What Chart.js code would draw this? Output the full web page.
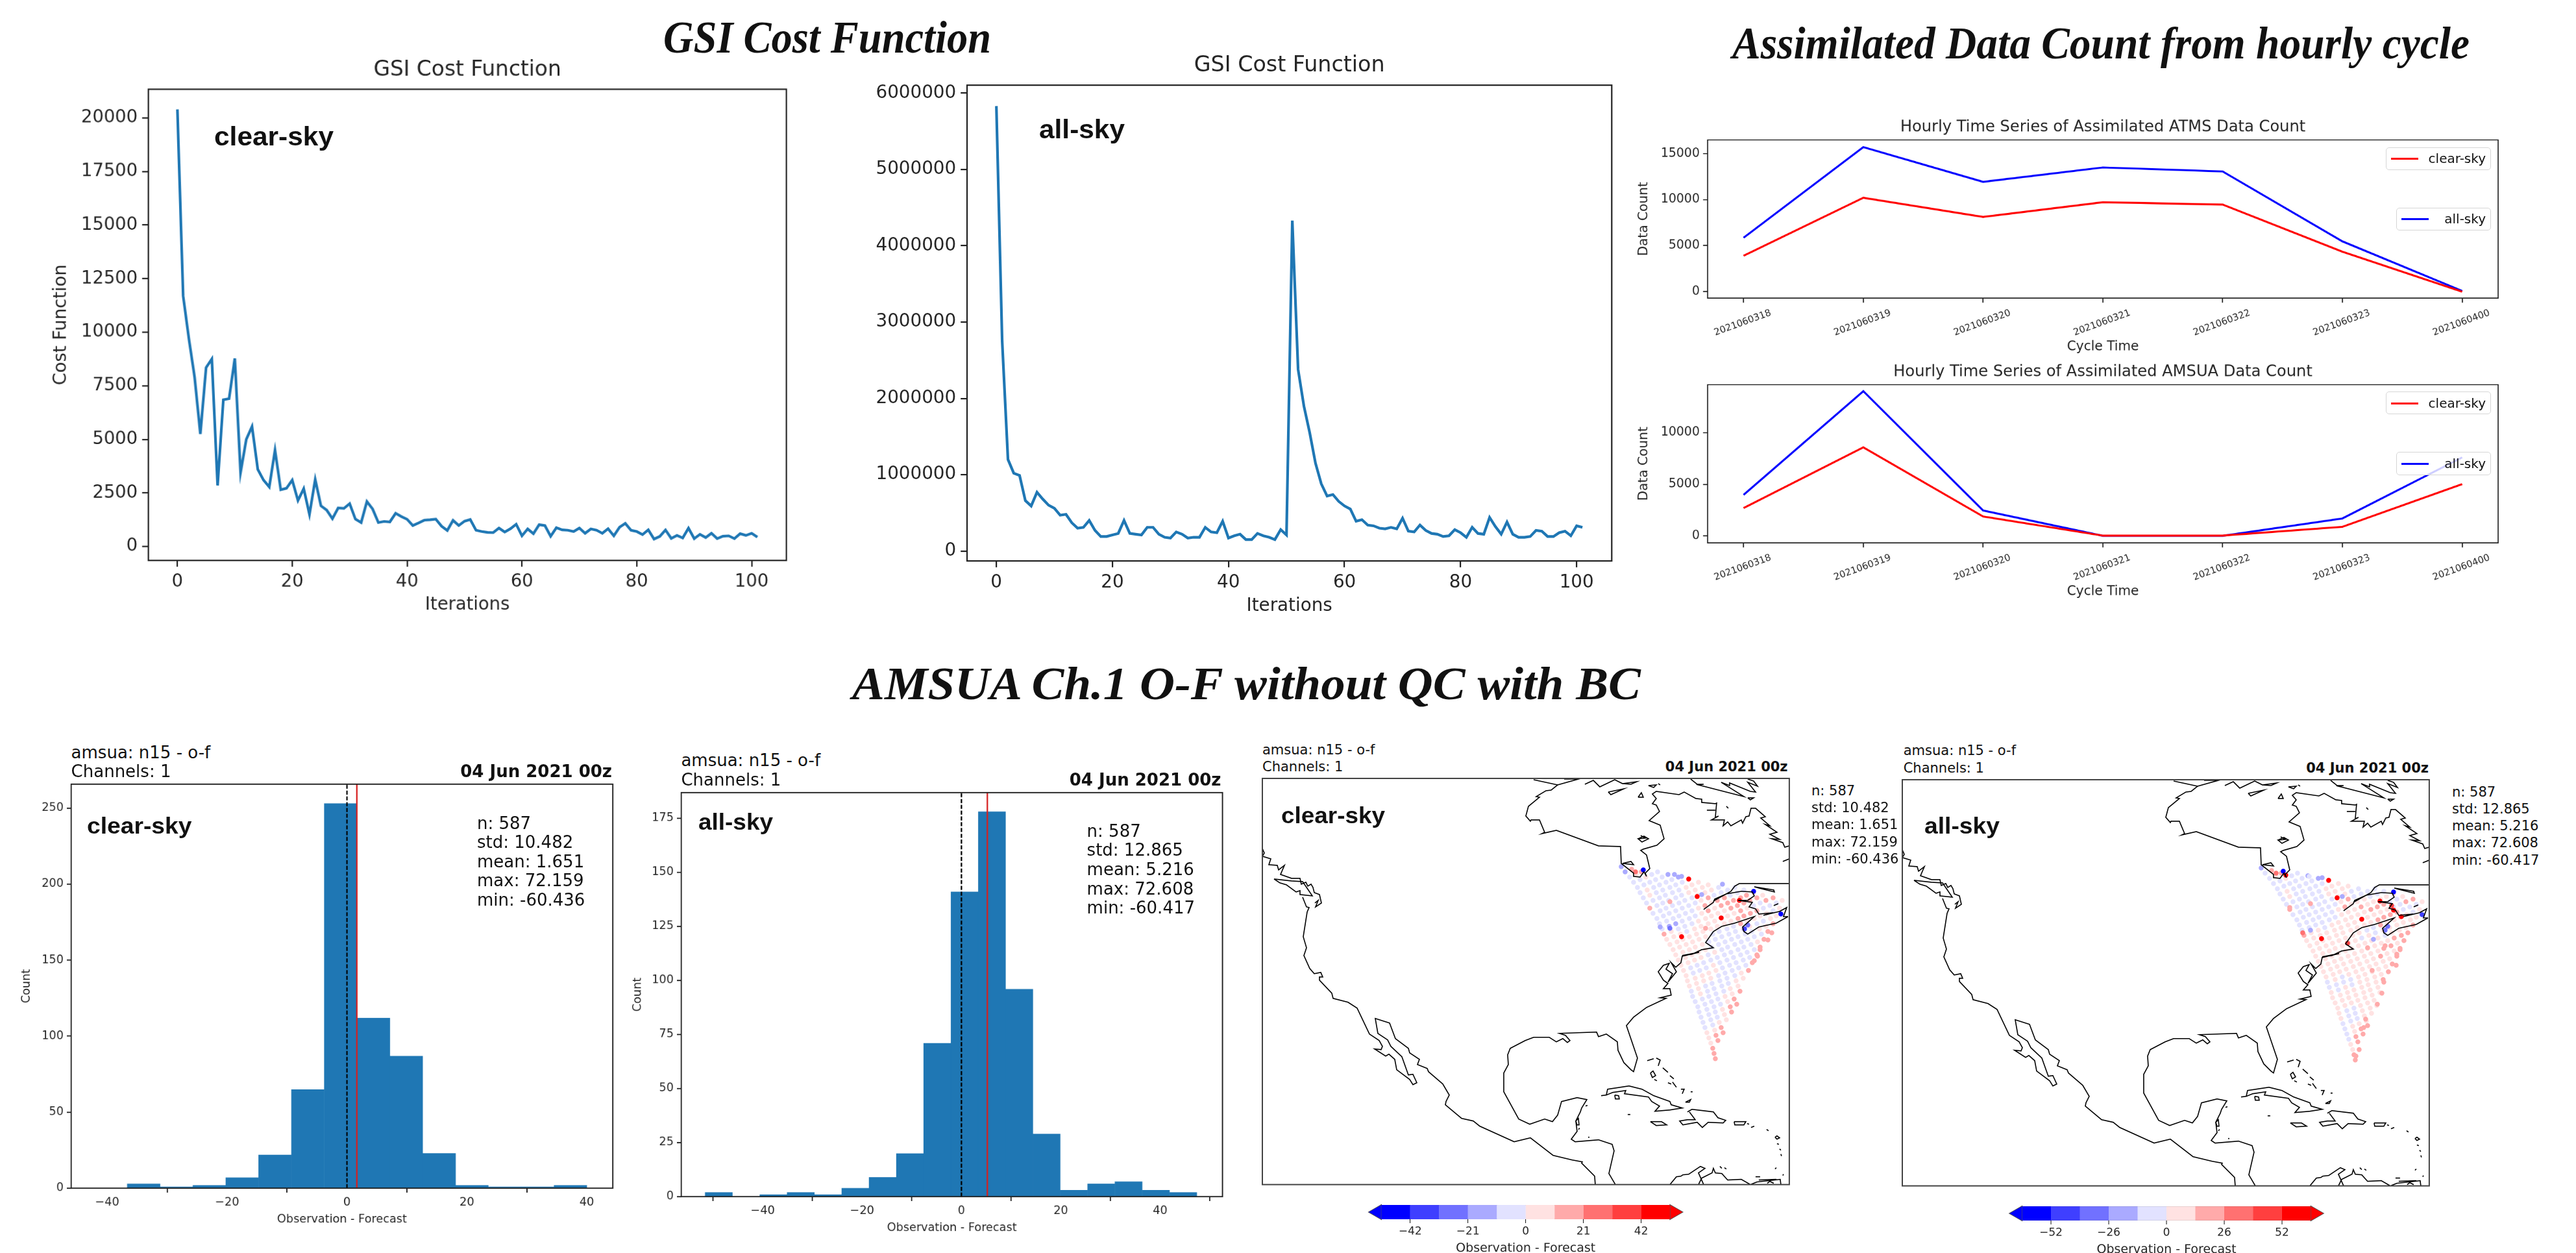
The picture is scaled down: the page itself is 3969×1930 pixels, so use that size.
<!DOCTYPE html>
<html>
<head>
<meta charset="utf-8">
<title>GSI cost function and AMSUA O-F</title>
<style>
    html, body { margin: 0; padding: 0; background: #fff; width: 3969px; height: 1930px; overflow: hidden; }
    .panel { position: absolute; transform-origin: 0 0; }
    .panel canvas { display: block; }
    .note { position: absolute; white-space: nowrap; line-height: 1; color: #111; z-index: 5; }
    .legend { position: absolute; box-sizing: border-box; background: rgba(255,255,255,0.8); border: 1.5px solid #d6d6d6; border-radius: 5px; z-index: 4; }
</style>
<script src="https://cdn.jsdelivr.net/npm/chart.js@4"></script>
</head>
<body>
<script>
// cost function, iterations 0..101
const iterations = [...Array(102).keys()];
const costClear = [20400,11700,9700,7900,5250,8350,8750,2850,6850,6900,8780,3450,5000,5600,3600,3100,2780,4500,2650,2720,3100,2150,2700,1500,3130,1900,1700,1300,1800,1780,2000,1280,1120,2100,1750,1120,1170,1150,1550,1400,1270,980,1100,1230,1250,1280,950,750,1220,980,1180,1260,760,700,660,650,860,680,830,1040,500,820,600,1020,980,480,880,780,760,700,860,620,820,760,620,830,500,900,1080,760,700,560,780,350,470,770,380,520,400,860,370,570,420,620,370,480,500,370,600,520,620,440];
const costAll = [5830000,2750000,1200000,1020000,990000,660000,590000,770000,680000,600000,560000,470000,480000,370000,300000,310000,400000,270000,190000,190000,210000,230000,400000,230000,220000,210000,310000,310000,220000,180000,170000,250000,220000,170000,180000,180000,310000,250000,240000,390000,170000,200000,220000,150000,150000,230000,200000,180000,150000,280000,210000,4330000,2380000,1900000,1550000,1150000,880000,720000,740000,650000,590000,550000,390000,410000,340000,330000,300000,290000,310000,290000,430000,260000,250000,340000,270000,230000,220000,190000,200000,280000,240000,180000,310000,230000,220000,440000,320000,220000,380000,220000,180000,180000,190000,270000,260000,190000,190000,240000,260000,200000,330000,310000];
const iterTicks = [0,20,40,60,80,100];
const costClearTicks = [0,2500,5000,7500,10000,12500,15000,17500,20000];
const costAllTicks = [0,1000000,2000000,3000000,4000000,5000000,6000000];

// assimilated data counts
const cycleTimes = ['2021060318','2021060319','2021060320','2021060321','2021060322','2021060323','2021060400'];
const atmsClear = [3900,10190,8110,9710,9450,4335,0];
const atmsAll = [5850,15690,11920,13480,13050,5460,80];
const amsuaClear = [2700,8570,1890,40,40,890,5020];
const amsuaAll = [3980,14000,2470,20,20,1700,7600];
const atmsTicks = [0,5000,10000,15000];
const amsuaTicks = [0,5000,10000];

// histograms
const histClearCenters = [-33.91,-28.43,-22.96,-17.48,-12.0,-6.53,-1.05,4.42,9.9,15.38,20.85,26.33,31.8,37.28];
const histClearCounts = [3,1,2,7,22,65,253,112,87,23,2,1,1,2];
const histAllCenters = [-48.85,-43.35,-37.85,-32.35,-26.85,-21.35,-15.85,-10.35,-4.85,0.65,6.15,11.65,17.15,22.65,28.15,33.65,39.15,44.65];
const histAllCounts = [2,0,1,2,1,4,9,20,71,141,178,96,29,3,6,7,3,2];
const histXTicks = [-40,-20,0,20,40];
const histClearYTicks = [0,50,100,150,200,250];
const histAllYTicks = [0,25,50,75,100,125,150,175];
const meanClear = 1.651;
const meanAll = 5.216;

// map grid units: 0..812 across, 0..626 down
const coastlines = [
    [0,108,3,115,0,120,13,124,10,133,23,134,25,141,34,134,28,148,45,154,58,154,60,163,67,160,70,166,75,163,78,168,80,176,88,179,91,192,82,198,86,188,81,192],
    [18,155,27,161,37,164,52,175,58,173,58,179,77,181,62,159,45,158,18,155],
    [62,183,68,198,72,199,69,206,63,244,68,261,64,273,73,293,80,301,90,299,93,306,88,306,88,311,107,331,109,339,132,345,146,354,165,394,180,404,185,413,183,418,173,417,190,428,195,425,204,433,207,449,227,464,232,472,238,469,232,456,225,457,215,429,198,413,193,403,178,393,174,370,196,377,205,401,225,416,227,423,242,433,239,441,254,447,256,452,278,471,288,488,283,498,282,503,307,524,325,528,335,536,388,560,413,554,448,581,477,588,493,591,492,593,512,613,513,626],
    [544,626,534,609,542,574,539,564,518,557,482,560,476,556,485,544,483,528,490,514,492,508,500,495,485,492,461,498,455,519,447,529,435,525,412,533,395,525,372,483,372,454,379,441,378,426,382,416,405,404,418,399,442,399,453,406,463,401,470,407,474,404,467,396,458,393,485,392,515,391,518,398,530,394,547,406,548,419,557,438,568,449,572,452,578,431,561,381,572,368,592,353,622,339,613,338,630,334,628,324,618,324,625,316,618,311,610,298,618,288,627,285,622,294,632,301,625,314,638,298,630,284,637,291,645,284,647,274,673,268,647,273,662,271,677,264,695,261,683,253,695,236,708,228,728,223,758,213,740,229,742,236,748,240,765,229,792,223,810,213],
    [680,202,695,191,697,186,715,178,738,174,755,175,758,181,748,188,733,188,755,191,750,198,760,201,765,209,787,207,772,211,797,205,808,199,803,213,810,213],
    [695,189,722,174,728,166,735,162,812,162],
    [758,167,788,172,789,175,765,169,758,167],
    [788,196,795,193],
    [802,128,812,124],
    [418,2,455,10,445,18,437,19,422,28,427,29,410,43,406,58,413,66,414,64,427,64,435,83,431,85,453,80,518,104,552,105,553,131,572,146,572,151,582,152,588,144,592,151,590,146,597,139,592,118,583,111,587,109,608,103,619,93,613,72,596,65,612,51,607,41,601,39,607,31,601,24,607,20,642,25,650,21,668,31,677,32,677,37,698,39,700,38,698,60,703,58,692,64,712,64,710,73,717,67,722,73,738,64,740,69,745,59,750,58,753,46,760,46,775,59,768,61,782,73,775,71,793,83,782,86,797,94,785,93,802,99,805,106,812,104],
    [685,49,698,49],
    [555,131,568,128,572,133,555,131],
    [579,93,588,89,595,93,585,98,579,93,590,92,583,88],
    [465,1,487,1,455,10],
    [497,9,510,3,520,13,543,2,555,8,577,5,568,9,555,8],
    [533,21,557,16,537,25,533,21],
    [579,29,584,22,587,29,579,29],
    [595,11,607,10,603,14,595,11],
    [610,8,613,10],
    [660,1,670,9,680,9,672,10,742,28,707,6,720,11,720,7,752,20,760,21,748,6,763,12,757,4,748,1],
    [715,43,718,46],
    [748,30,757,30,752,33,748,30],
    [522,489,530,488,532,479,565,474,585,479,603,489,628,498,630,503,647,508,628,511,605,513,612,505,600,498,595,491,558,486,560,481,540,484,530,488],
    [543,488,549,489,550,494,544,494,543,488],
    [655,514,662,510,695,514,702,523,714,527,710,531,687,530,678,538,670,530,648,534,643,528,655,526,667,526,658,514],
    [598,529,615,529,623,534,607,535,598,529],
    [727,529,745,529,742,534,728,534,727,529],
    [593,435,603,432],
    [607,431,613,434,610,443],
    [617,446,625,453],
    [628,458,634,463],
    [625,469,630,471],
    [632,468,638,476],
    [645,479,650,479,647,486],
    [660,483,663,483],
    [652,499,660,495,658,499,652,499],
    [563,518,567,518],
    [598,454,602,451,606,458,601,461,598,454],
    [604,464,608,466],
    [747,532,750,533],
    [753,538,758,536],
    [777,541,780,543],
    [790,553,793,551,797,554,793,556,790,553],
    [793,563,796,564],
    [797,571,799,573],
    [799,579,800,582],
    [790,602,792,600],
    [802,612,803,610],
    [498,505,501,504],
    [483,528,487,524,488,534,485,534,483,528],
    [487,541,489,539],
    [502,553,504,553],
    [628,626,638,614,645,613,648,611,657,610,675,598,682,601,672,608,680,626],
    [672,626,677,616,693,608,695,601,698,608,708,609,717,619,738,618,752,626,762,622,798,618,799,626],
    [705,598,708,601],
    [712,600,715,602],
    [760,614,767,614],
    [765,619,792,618],
    [778,624,782,621,788,624]
];

// observation locations, one line per swath row
const obsU = [
    553,559,566,572,578,582,587,592,597,602,608,612,616,619,623,628,633,637,641,645,649,653,655,658,661,663,667,671,673,676,679,682,685,688,691,694,696,698,
    569,576,582,588,593,597,602,608,613,618,623,627,630,634,639,643,648,652,656,660,664,667,669,672,675,678,682,685,688,691,694,697,699,702,
    584,591,597,603,607,612,617,622,627,633,637,641,644,648,653,658,662,666,670,674,678,680,683,686,688,692,696,698,701,704,707,710,
    600,606,612,617,621,626,632,637,642,647,651,654,658,663,667,672,676,680,684,688,691,693,696,699,702,706,709,712,715,
    609,616,622,628,632,637,642,647,652,658,662,666,669,673,678,683,687,691,695,699,703,705,708,711,713,717,721,723,
    625,631,637,642,646,651,657,662,667,672,676,679,683,688,692,697,701,705,709,713,716,718,721,724,727,731,
    641,647,653,657,662,667,672,677,683,687,691,694,698,703,708,712,716,720,724,728,730,733,736,
    656,662,667,671,676,682,687,692,697,701,704,708,713,717,722,726,730,734,738,741,
    672,678,682,687,692,697,702,708,712,716,719,723,728,733,737,741,745,749,
    687,692,696,701,707,712,717,722,726,729,733,738,742,747,751,755,
    703,707,712,717,722,727,733,737,741,744,748,753,758,762,
    717,721,726,732,737,742,747,751,754,758,763,767,
    728,732,737,742,747,752,758,762,766,769,773,
    742,746,751,757,762,767,772,776,779,
    757,762,767,772,777,783,787,
    771,776,782,787,792,
    787,792,797,
    801
];
const obsV = [
    136,144,152,160,168,176,184,192,200,208,216,224,232,240,248,256,264,272,280,288,296,304,312,320,328,336,344,352,360,368,376,384,392,400,408,416,424,432,
    140,148,156,164,172,180,188,196,204,212,220,228,236,244,252,260,268,276,284,292,300,308,316,324,332,340,348,356,364,372,380,388,396,404,
    144,152,160,168,176,184,192,200,208,216,224,232,240,248,256,264,272,280,288,296,304,312,320,328,336,344,352,360,368,376,384,392,
    148,156,164,172,180,188,196,204,212,220,228,236,244,252,260,268,276,284,292,300,308,316,324,332,340,348,356,364,372,
    144,152,160,168,176,184,192,200,208,216,224,232,240,248,256,264,272,280,288,296,304,312,320,328,336,344,352,360,
    148,156,164,172,180,188,196,204,212,220,228,236,244,252,260,268,276,284,292,300,308,316,324,332,340,348,
    152,160,168,176,184,192,200,208,216,224,232,240,248,256,264,272,280,288,296,304,312,320,328,
    156,164,172,180,188,196,204,212,220,228,236,244,252,260,268,276,284,292,300,308,
    160,168,176,184,192,200,208,216,224,232,240,248,256,264,272,280,288,296,
    164,172,180,188,196,204,212,220,228,236,244,252,260,268,276,284,
    168,176,184,192,200,208,216,224,232,240,248,256,264,272,
    172,180,188,196,204,212,220,228,236,244,252,260,
    168,176,184,192,200,208,216,224,232,240,248,
    172,180,188,196,204,212,220,228,236,
    176,184,192,200,208,216,224,
    180,188,196,204,212,
    184,192,200,
    188
];
const clearOmf = [
    -15,-15,-5,-5,-5,-5,-5,-5,15,-5,-5,-5,-5,15,5,5,5,5,5,5,5,5,5,5,-5,-5,-5,-5,-5,-5,-5,-5,5,5,5,15,15,15,
    15,5,-5,-5,5,5,-5,-5,-5,-5,-5,-15,5,5,5,5,5,5,5,-5,-5,5,5,5,5,-5,-5,-5,-5,-5,-5,5,15,15,
    15,5,-5,-5,-5,-5,-5,-5,-5,-5,-15,-5,5,5,5,5,5,5,-5,-5,5,5,-5,-5,-5,-5,-5,-5,-5,5,15,15,
    -5,-5,-5,-5,-5,-5,-5,-5,-5,-5,-5,-5,5,5,5,5,5,-5,-5,5,5,-5,-5,-5,-5,-5,5,5,5,
    -5,-5,-5,-5,-5,-5,-5,-5,-5,-5,-5,5,5,5,5,5,-5,-5,5,5,-5,-5,-5,-5,5,5,15,15,
    -15,-5,-5,-5,-5,-5,-5,-5,-5,5,5,5,5,-5,-5,5,-5,-5,-5,-5,-5,-5,5,5,15,15,
    -15,-5,5,5,-5,-5,5,5,5,5,5,-5,-5,-5,-5,-5,-5,-5,-5,-5,5,5,15,
    5,5,5,5,5,15,15,5,5,5,-5,-5,-5,-5,-5,-5,-5,-5,5,5,
    5,5,5,15,5,5,5,5,5,-5,-5,-5,-5,-5,-5,-5,-5,15,
    5,5,-5,15,15,5,5,5,-5,-5,-5,-5,-5,-5,-5,15,
    -5,-5,15,15,15,5,15,15,5,-5,-5,-5,-5,15,
    -5,-5,15,15,15,15,5,5,-5,-5,5,15,
    -5,-5,15,15,5,15,5,-5,5,-5,15,
    -5,15,15,-5,15,5,-5,5,15,
    5,15,-5,-5,5,5,15,
    5,15,-5,-5,5,
    15,-5,5,
    5
];
const allOmf = [
    -15,-5,-5,-5,-5,-5,-5,-5,15,-5,-5,-5,-5,15,5,5,5,5,5,5,5,5,-5,-5,5,5,5,5,5,5,-5,-5,-5,-5,5,5,15,15,
    15,5,-5,-5,5,5,-5,-5,-5,-5,-5,-5,5,5,5,5,5,5,5,5,5,5,-5,-5,5,5,5,-5,-5,-5,5,5,15,15,
    15,5,-5,-5,-5,-5,-5,-5,-5,-5,-5,5,5,5,5,5,5,5,5,5,-5,-5,5,5,5,5,-5,-5,-5,5,15,15,
    -5,-5,-5,-5,-5,-5,-5,-5,-5,-5,-5,5,5,5,5,5,5,5,5,5,-5,-5,5,5,5,5,5,5,5,
    -5,-5,-5,-5,-5,-5,-5,-5,-5,-5,5,5,5,5,5,5,5,5,5,5,5,5,5,5,5,5,5,5,
    -15,-5,-5,-5,-5,-5,-5,-5,-5,5,5,5,5,5,5,5,5,5,5,5,5,5,5,5,5,5,
    -15,-5,5,5,-5,-5,5,5,5,5,5,5,5,5,5,5,5,5,5,5,5,5,5,
    5,5,5,5,5,15,5,5,5,5,5,-5,5,5,5,5,5,5,5,15,
    5,5,5,15,5,5,5,5,5,-5,5,5,5,5,15,5,5,15,
    5,-5,-5,5,15,5,5,5,-5,-5,5,5,15,5,5,15,
    -5,-5,5,5,15,5,15,15,5,-5,5,15,5,15,
    -5,-5,5,15,5,15,5,5,5,15,5,15,
    -5,-5,5,15,5,15,5,5,5,15,15,
    -5,5,-5,-5,15,5,5,5,15,
    5,-5,-5,-5,5,5,15,
    5,15,-5,-5,5,
    15,-5,5,
    5
];
// the few strong departures that stand out on top
const clearHotU = [587,575,657,670,707,646,757,799,748,743,628,613,635,646,709,677,735,628,683,785,779,767,763,758];
const clearHotV = [141,144,155,182,215,244,174,209,226,232,231,229,148,151,163,179,188,190,231,238,249,264,274,281];
const clearHotOmf = [-60,30,60,60,60,60,-60,-60,-30,-40,-25,-15,-15,-15,-15,-15,60,15,15,15,15,15,15,15];
const allHotU = [587,591,576,657,670,678,708,646,757,801,748,744,629,617,597,629,647,627,736,754,757,769,726,686,717,744,762,767,761,724,742,739,732,714,711,717,704,699];
const allHotV = [141,147,144,155,182,180,215,245,173,208,226,232,232,236,197,191,151,149,187,194,201,211,246,252,259,256,269,262,286,294,312,329,346,369,382,379,416,426];
const allHotOmf = [-60,60,30,60,60,-15,60,60,-60,-40,-27,-27,-15,27,15,15,-15,-5,60,50,60,60,-15,45,15,15,15,15,15,15,15,15,15,15,15,15,15,15];

// colour bars
const omfColors = ['#0000ff','#3f3fff','#7171ff','#aaaaff','#e2e2ff','#ffe2e2','#ffaaaa','#ff7171','#ff3f3f','#ff0000'];
const clearLevels = [-52.5,-42,-31.5,-21,-10.5,0,10.5,21,31.5,42,52.5];
const allLevels = [-65,-52,-39,-26,-13,0,13,26,39,52,65];
const clearBarTicks = [-42,-21,0,21,42];
const allBarTicks = [-52,-26,0,26,52];

const SANS = "'DejaVu Sans', sans-serif";
const TEXT = '#262626';

Chart.register({
    id: 'frame',
    afterDatasetsDraw(chart, args, opts) {
        if (!opts.width) return;
        const { ctx, chartArea: a } = chart;
        ctx.save();
        ctx.strokeStyle = opts.color;
        ctx.lineWidth = opts.width;
        ctx.strokeRect(a.left, a.top, a.right - a.left, a.bottom - a.top);
        ctx.restore();
    }
});

function note(text, x, y, size, opts = {}) {
    const el = document.createElement('div');
    el.className = 'note';
    el.textContent = text;
    el.style.left = x + 'px';
    el.style.top = y + 'px';
    el.style.fontSize = size + 'px';
    el.style.fontFamily = opts.family || SANS;
    el.style.fontWeight = opts.weight || 'normal';
    el.style.fontStyle = opts.style || 'normal';
    document.body.appendChild(el);
    const shiftX = opts.right ? '-100%' : '0';
    el.style.transformOrigin = opts.right ? '100% 50%' : '0 50%';
    const sx = opts.width ? opts.width / el.getBoundingClientRect().width : 1;
    el.style.transform = `translate(${shiftX}, -50%) scaleX(${sx})`;
}

function legendBox(x0, y0, x1, y1, color, text) {
    const box = document.createElement('div');
    box.className = 'legend';
    box.style.cssText = `left:${x0}px;top:${y0}px;width:${x1 - x0}px;height:${y1 - y0}px`;
    const line = document.createElement('div');
    line.style.cssText = `position:absolute;left:7px;top:${(y1 - y0) / 2 - 2}px;width:42px;height:3px;background:${color}`;
    box.appendChild(line);
    document.body.appendChild(box);
    note(text, x1 - 8, (y0 + y1) / 2, 20, { right: true });
}

// box is the plot frame in page px, s the scale of the drawing, m its margins in drawing px
function mount(box, s, m) {
    const wrap = document.createElement('div');
    wrap.className = 'panel';
    wrap.style.left = (box[0] - m.l * s) + 'px';
    wrap.style.top = (box[1] - m.t * s) + 'px';
    wrap.style.transform = `scale(${s})`;
    const canvas = document.createElement('canvas');
    const bw = (box[2] - box[0]) / s;
    const bh = (box[3] - box[1]) / s;
    canvas.width = Math.ceil(m.l + bw + m.r);
    canvas.height = Math.ceil(m.t + bh + m.b);
    wrap.appendChild(canvas);
    document.body.appendChild(wrap);
    return {
        canvas,
        right: canvas.width - m.l - bw,
        bottom: canvas.height - m.t - bh
    };
}

function xy(xs, ys) {
    return xs.map((x, i) => ({ x: x, y: ys[i] }));
}

function minusLabel(v) {
    return String(v).replace('-', '\u2212');
}

function axis(cfg) {
    const size = cfg.size;
    const out = {
        type: 'linear',
        min: cfg.min,
        max: cfg.max,
        offset: false,
        border: { display: false },
        grid: { drawOnChartArea: false, drawTicks: true, tickLength: cfg.tickLength || 4.9, color: '#222', lineWidth: cfg.tickWidth || 1.1 },
        ticks: {
            color: TEXT,
            font: { family: SANS, size: size },
            padding: cfg.padding === undefined ? 3.5 : cfg.padding,
            autoSkip: false,
            maxRotation: cfg.rotation || 0,
            minRotation: cfg.rotation || 0,
            labelOffset: cfg.labelOffset || 0,
            callback: cfg.format || minusLabel
        },
        afterBuildTicks: (scale) => { scale.ticks = cfg.ticks.map(v => ({ value: v })); },
        afterFit: (scale) => {
            if (scale.isHorizontal()) scale.height = cfg.fit;
            else scale.width = cfg.fit;
        }
    };
    if (cfg.title) {
        out.title = {
            display: true,
            text: cfg.title,
            color: TEXT,
            font: { family: SANS, size: cfg.titleSize || size },
            padding: cfg.titlePad
        };
    }
    return out;
}

function makeChart(box, s, m, type, datasets, x, y, title, extra = {}) {
    const p = mount(box, s, m);
    const titleSize = title ? title.size : 0;
    const plugins = {
        legend: { display: false },
        tooltip: { enabled: false },
        frame: { width: extra.frameWidth === undefined ? 1.1 : extra.frameWidth, color: extra.frameColor || '#222' }
    };
    if (title) {
        const lines = Array.isArray(title.text) ? title.text.length : 1;
        const h = lines * titleSize * 1.2;
        plugins.title = {
            display: true,
            text: title.text,
            color: TEXT,
            fullSize: false,
            align: title.align || 'center',
            font: { family: SANS, size: titleSize, weight: 'normal' },
            padding: { top: m.t - h - title.gap, bottom: title.gap }
        };
    }
    return new Chart(p.canvas, {
        type: type,
        data: { datasets: datasets },
        options: {
            responsive: false,
            maintainAspectRatio: false,
            animation: false,
            devicePixelRatio: 2,
            layout: {
                autoPadding: false,
                padding: {
                    left: x.display === false ? m.l : 0,
                    top: title ? 0 : m.t,
                    right: p.right,
                    bottom: x.display === false ? p.bottom : 0
                }
            },
            scales: { x: x, y: y },
            plugins: plugins
        }
    });
}

function lineSet(xs, ys, color, width) {
    return {
        type: 'line',
        data: xy(xs, ys),
        borderColor: color,
        backgroundColor: color,
        borderWidth: width,
        pointRadius: 0,
        tension: 0,
        fill: false
    };
}

// top row: cost functions
const ITER_M = { l: 80, t: 57.6, r: 20, b: 45 };
makeChart([229, 137.1, 1212, 862], 1.97, ITER_M, 'line',
    [lineSet(iterations, costClear, '#1f77b4', 2.08)],
    axis({ min: -5.05, max: 106.05, ticks: iterTicks, size: 13.9, fit: ITER_M.b, title: 'Iterations', titlePad: { bottom: 2 } }),
    axis({ min: -649, max: 21337, ticks: costClearTicks, size: 13.9, fit: ITER_M.l, format: String, title: 'Cost Function', titlePad: { top: 3.5 } }),
    { text: 'GSI Cost Function', size: 16.67, gap: 5 });
makeChart([1489.7, 131, 2483, 862.7], 2.0, ITER_M, 'line',
    [lineSet(iterations, costAll, '#1f77b4', 2.08)],
    axis({ min: -5.05, max: 106.05, ticks: iterTicks, size: 13.9, fit: ITER_M.b, title: 'Iterations', titlePad: { bottom: 2 } }),
    axis({ min: -130000, max: 6104000, ticks: costAllTicks, size: 13.9, fit: ITER_M.l, format: String }),
    { text: 'GSI Cost Function', size: 16.67, gap: 5 });

// top right: data counts
const COUNT_M = { l: 80, t: 30, r: 10, b: 62 };
const cycleIndex = cycleTimes.map((c, i) => i);
function countChart(box, clear, all, ymin, ymax, yticks, title) {
    makeChart(box, 1.45, COUNT_M, 'line',
        [lineSet(cycleIndex, clear, 'red', 2.08), lineSet(cycleIndex, all, 'blue', 2.08)],
        axis({
            min: -0.3, max: 6.3, ticks: cycleIndex, size: 10, fit: COUNT_M.b, rotation: 20, labelOffset: 29, padding: 5,
            format: (v) => cycleTimes[v], title: 'Cycle Time', titleSize: 13.9, titlePad: { bottom: 2 }
        }),
        axis({ min: ymin, max: ymax, ticks: yticks, size: 13, fit: COUNT_M.l, format: String, title: 'Data Count', titleSize: 13.9, titlePad: { top: 4 } }),
        { text: title, size: 16.67, gap: 3.4 });
}
countChart([2631, 215.5, 3849, 458], atmsClear, atmsAll, -694, 16470, atmsTicks, 'Hourly Time Series of Assimilated ATMS Data Count');
countChart([2631, 592.7, 3849, 835.1], amsuaClear, amsuaAll, -656, 14628, amsuaTicks, 'Hourly Time Series of Assimilated AMSUA Data Count');
legendBox(3676, 226.5, 3838, 262, 'red', 'clear-sky');
legendBox(3692, 319.6, 3838, 355, 'blue', 'all-sky');
legendBox(3676, 603, 3838, 638, 'red', 'clear-sky');
legendBox(3692, 696, 3838, 732, 'blue', 'all-sky');

// bottom left: histograms
const HIST_M = { l: 64, t: 10, r: 10, b: 37 };
function histChart(box, centers, counts, mean, xmin, xmax, ymax, yticks, pad) {
    const bars = {
        type: 'bar',
        data: xy(centers, counts),
        backgroundColor: '#1f77b4',
        categoryPercentage: 1,
        barPercentage: 1.01,
        order: 2
    };
    const zero = lineSet([0, 0], [0, ymax], '#000', 1.3);
    zero.borderDash = [3.7, 1.6];
    zero.order = 1;
    const meanLine = lineSet([mean, mean], [0, ymax], '#d62020', 1.4);
    meanLine.order = 0;
    makeChart(box, 1.682, HIST_M, 'bar', [bars, zero, meanLine],
        axis({ min: xmin, max: xmax, ticks: histXTicks, size: 10.5, tickLength: 4, padding: 3, fit: HIST_M.b, title: 'Observation - Forecast', titleSize: 10.5, titlePad: { bottom: 2 } }),
        axis({ min: 0, max: ymax, ticks: yticks, size: 10.5, tickLength: 4, padding: 3, fit: HIST_M.l, format: String, title: 'Count', titleSize: 10.5, titlePad: { top: pad } }),
        null);
}
histChart([109.6, 1208.3, 944.1, 1830.3], histClearCenters, histClearCounts, meanClear, -46, 44.34, 265.7, histClearYTicks, 17);
histChart([1049.4, 1220.7, 1883.3, 1842.2], histAllCenters, histAllCounts, meanAll, -56.4, 52.56, 186.8, histAllYTicks, 18);

// bottom right: maps
function binColor(value, levels) {
    const step = levels[1] - levels[0];
    const i = Math.floor(value / step) + 5;
    return omfColors[Math.max(0, Math.min(9, i))];
}

function mapChart(box, omf, hotU, hotV, hotOmf, levels) {
    const us = obsU.concat(hotU);
    const vs = obsV.concat(hotV);
    const values = omf.concat(hotOmf);
    const sets = [{
        type: 'scatter',
        data: xy(us, vs),
        pointRadius: 3.8,
        pointBorderWidth: 0,
        pointBackgroundColor: values.map(v => binColor(v, levels)),
        order: 2
    }];
    coastlines.forEach((c) => {
        const xs = c.filter((n, i) => i % 2 === 0);
        const ys = c.filter((n, i) => i % 2 === 1);
        const line = lineSet(xs, ys, '#000', 1.6);
        line.order = 1;
        sets.push(line);
    });
    makeChart(box, 1, { l: 3, t: 3, r: 3, b: 3 }, 'scatter', sets,
        { type: 'linear', display: false, min: 0, max: 812 },
        { type: 'linear', display: false, min: 0, max: 626, reverse: true },
        null, { frameWidth: 2, frameColor: '#444' });
}
mapChart([1944.6, 1199, 2756.5, 1824.6], clearOmf, clearHotU, clearHotV, clearHotOmf, clearLevels);
mapChart([2931.4, 1201.1, 3743.3, 1826.7], allOmf, allHotU, allHotV, allHotOmf, allLevels);

function colorBar(box, levels, limit, ticks) {
    const m = { l: 4, t: 2, r: 4, b: 60 };
    const lo = levels[0];
    const hi = levels[levels.length - 1];
    const sets = levels.slice(0, -1).map((edge, i) => {
        const seg = lineSet([edge, levels[i + 1]], [0.5, 0.5], omfColors[i], box[3] - box[1]);
        seg.borderCapStyle = 'butt';
        return seg;
    });
    sets.push(lineSet([lo, hi, hi, lo, lo], [0, 0, 1, 1, 0], '#555', 1.2));
    const tip = 6.5 * (2 * limit) / (box[2] - box[0]);
    [[lo, -90, -1, omfColors[0]], [hi, 90, 1, omfColors[9]]].forEach(([edge, rotation, sign, color]) => {
        sets.push({
            type: 'scatter',
            data: [{ x: edge + sign * tip, y: 0.5 }],
            pointStyle: 'triangle',
            rotation: rotation,
            pointRadius: 13.5,
            pointBorderWidth: 1,
            pointBorderColor: '#555',
            pointBackgroundColor: color,
            clip: false
        });
    });
    makeChart(box, 1, m, 'scatter', sets,
        axis({ min: -limit, max: limit, ticks: ticks, size: 17, tickLength: 6, padding: 3, fit: m.b, title: 'Observation - Forecast', titleSize: 19, titlePad: { bottom: 3.6 } }),
        { type: 'linear', min: 0, max: 1, ticks: { display: false }, grid: { display: false }, border: { display: false }, afterFit: (s) => { s.width = m.l; } },
        null, { frameWidth: 0 });
}
colorBar([2105.2, 1856, 2596.6, 1878], clearLevels, 58, clearBarTicks);
colorBar([3094.7, 1857.7, 3580.7, 1879.4], allLevels, 71, allBarTicks);

// headings
const HEAD = { family: "'Liberation Serif', serif", weight: 'bold', style: 'italic' };
note('GSI Cost Function', 1022, 58, 70, { ...HEAD, width: 505 });
note('Assimilated Data Count from hourly cycle', 2669, 67, 70, { ...HEAD, width: 1136 });
note('AMSUA Ch.1 O-F without QC with BC', 1313, 1053, 72, { ...HEAD, width: 1215 });

// sky labels
const SKY = { family: "'Liberation Sans', sans-serif", weight: 'bold' };
note('clear-sky', 330, 210, 40, { ...SKY, width: 184 });
note('all-sky', 1601, 199, 40, { ...SKY, width: 132 });
note('clear-sky', 133.5, 1271, 35, { ...SKY, width: 161.5 });
note('all-sky', 1076, 1265, 35, { ...SKY, width: 115 });
note('clear-sky', 1974, 1255, 35, { ...SKY, width: 160 });
note('all-sky', 2965, 1271, 35, { ...SKY, width: 116 });

// panel headers and statistics
function panelHeader(left, right, y1, y2, size) {
    note('amsua: n15 - o-f', left, y1, size);
    note('Channels: 1', left, y2, size);
    note('04 Jun 2021 00z', right, y2, size, { right: true, weight: 'bold' });
}
function statBlock(x, ys, size, lines) {
    lines.forEach((t, i) => note(t, x, ys[i], size));
}
const statsClear = ['n: 587', 'std: 10.482', 'mean: 1.651', 'max: 72.159', 'min: -60.436'];
const statsAll = ['n: 587', 'std: 12.865', 'mean: 5.216', 'max: 72.608', 'min: -60.417'];
panelHeader(109.6, 943, 1159, 1188, 26);
statBlock(735, [1267.7, 1297, 1326.6, 1356, 1386], 26, statsClear);
panelHeader(1049.4, 1881.5, 1170.6, 1200.6, 26);
statBlock(1674.6, [1279.6, 1309, 1339, 1368.5, 1398], 26, statsAll);
panelHeader(1945, 2754.6, 1154.6, 1181, 21);
statBlock(2791, [1218, 1244, 1270, 1296.7, 1322.5], 21, statsClear);
panelHeader(2932.7, 3742, 1156, 1183, 21);
statBlock(3778, [1220, 1245.5, 1272, 1298, 1324.6], 21, statsAll);
</script>
</body>
</html>
